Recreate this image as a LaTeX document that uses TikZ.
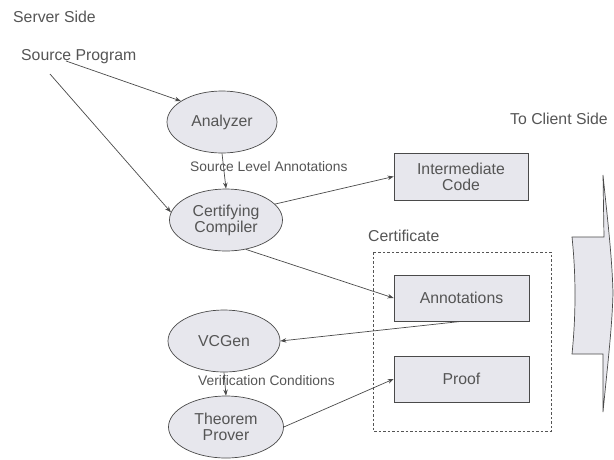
\documentclass[tikz,border=0pt]{standalone}
\usepackage{fontspec}
\setmainfont{Liberation Sans}
\usetikzlibrary{shapes,arrows.meta}
\definecolor{ink}{HTML}{555555}
\definecolor{lineink}{HTML}{4A4A4A}
\definecolor{boxfill}{HTML}{E7E7ED}
\tikzstyle{lbl} = [text=ink, font=\fontsize{15.8}{16}\selectfont, inner sep=0pt]
\tikzstyle{small lbl} = [text=ink, font=\fontsize{13.8}{15}\selectfont, inner sep=0pt, anchor=west]
\tikzstyle{stage} = [ellipse, draw=lineink, fill=boxfill, line width=0.7pt, lbl, align=center, minimum height=62pt]
\tikzstyle{part} = [rectangle, draw=lineink, fill=boxfill, line width=0.7pt, lbl, align=center, minimum width=135pt, minimum height=46pt]
\tikzstyle{flow} = [draw=lineink, line width=0.7pt, -{Stealth[length=6pt,width=4.5pt]}]
\tikzstyle{cert dashed} = [draw=ink, line width=0.8pt, dash pattern=on 2.5pt off 2pt]

\begin{document}
\begin{tikzpicture}[x=1pt,y=-1pt]
  \useasboundingbox (0,0) rectangle (614,459);
  % Server side
  \node[lbl, anchor=west] (server) at (13,17) {Server Side};
  \node[lbl, anchor=west] (src) at (21,57) {Source Program};
  \coordinate (s1) at (66,61);
  \coordinate (s2) at (50,74);
  % Stages
  \node[stage, minimum width=110pt] (anal) at (222,122) {Analyzer};
  \node[stage, minimum width=113pt] (cc) at (226,220) {Certifying\\Compiler};
  \node[stage, minimum width=112pt] (vcg) at (224,341) {VCGen};
  \node[stage, minimum width=115pt] (tp) at (226,427) {Theorem\\Prover};
  \node[small lbl] (sla) at (190,167) {Source Level Annotations};
  \node[small lbl] (vc) at (198,381) {Verification Conditions};
  % Certificate
  \draw[cert dashed] (373,252) rectangle (551,431);
  \node[lbl, anchor=west] (certlbl) at (368,236) {Certificate};
  \node[part, minimum width=134pt, minimum height=47pt] (ic) at (461,176.5) {Intermediate\\Code};
  \node[part] (ann) at (461.5,298) {Annotations};
  \node[part] (proof) at (461.5,379) {Proof};
  % To client
  \node[lbl, anchor=west] (client) at (510,119) {To Client Side};
  \draw[draw=lineink, fill=boxfill, line width=0.7pt] (603,175) -- (604,237) -- (572,237)
    .. controls (576,275) and (576,315) .. (572,354) -- (603,354) -- (603,412)
    .. controls (607,370) and (612,330) .. (613,293)
    .. controls (612,255) and (607,215) .. (603,175) -- cycle;
  % Arrows
  \draw[flow] (s1) -- (anal.153);
  \draw[flow] (s2) -- (cc.172);
  \draw[flow] (anal.south) -- (cc.north);
  \draw[flow] (cc.18) -- (ic.west);
  \draw[flow] (cc.-56) -- (ann.west);
  \draw[flow] (ann.south) -- (vcg.east);
  \draw[flow] (vcg.south) -- (tp.north);
  \draw[flow] (tp.east) -- (proof.west);
\end{tikzpicture}
\end{document}
